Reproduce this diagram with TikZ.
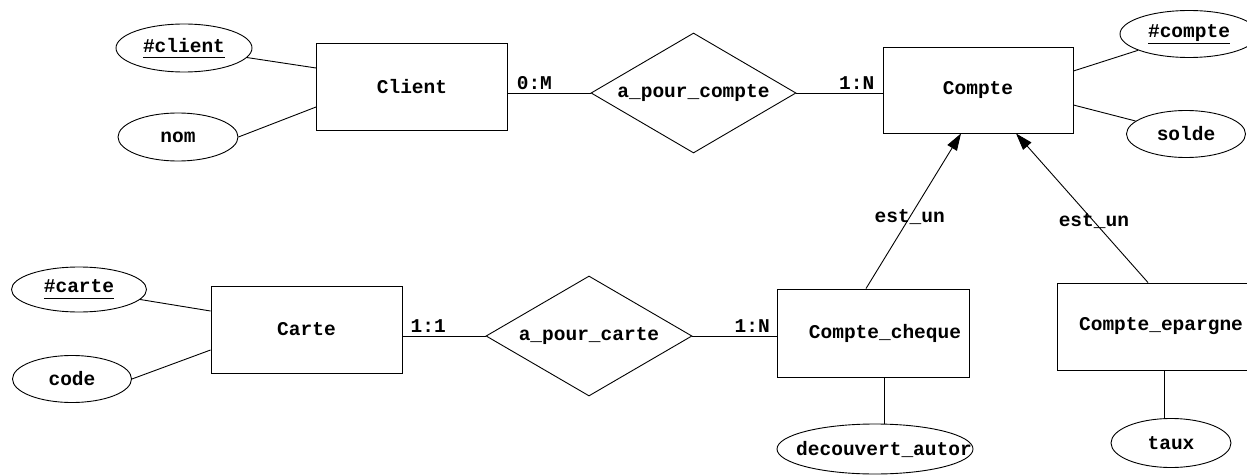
\documentclass[tikz,border=0pt]{standalone}
\usepackage{fontspec}
\setmainfont{Liberation Mono}
\usetikzlibrary{shapes.geometric, arrows.meta}
\newcommand\cle[1]{\setbox0\hbox{#1}\rlap{\rule[-6pt]{\wd0}{0.8pt}}\box0}

\tikzset{
  entite/.style = {draw, rectangle, inner sep=2pt, minimum width=191pt, minimum height=87pt},
  asso/.style = {draw, diamond, aspect=1.71, inner sep=0pt, minimum width=206pt, minimum height=120pt},
  attr/.style = {draw, ellipse, inner sep=0pt, minimum width=120pt, minimum height=48pt},
  card/.style = {above=1pt, inner sep=2pt},
  isa/.style = {-{Triangle[length=17pt, width=11pt]}}
}

\begin{document}
\begin{tikzpicture}[x=1pt, y=-1pt, line width=0.9pt, font=\fontsize{19.5}{23}\selectfont\bfseries]
\useasboundingbox (0,0) rectangle (1247,476);
\node[entite] (client) at (412,86.5) {Client};
\node[attr, minimum width=136pt] (cid) at (184,48) {\cle{\#client}};
\node[attr] (nom) at (178,137) {nom};
\node[asso, minimum width=205pt] (pc) at (693.5,93) {a\_pour\_compte};
\node[entite, minimum width=190pt, minimum height=86pt] (compte) at (978,90) {Compte};
\node[attr, minimum width=138pt, minimum height=47pt] (cptid) at (1189,34) {\cle{\#compte}};
\node[attr, minimum width=119pt, minimum height=47pt] (solde) at (1186,134) {solde};
\node[entite] (carte) at (306.5,329.5) {Carte};
\node[attr, minimum width=135pt, minimum height=45pt] (carteid) at (79,289.5) {\cle{\#carte}};
\node[attr, minimum width=119pt, minimum height=47pt] (code) at (72,379) {code};
\node[asso] (pcarte) at (589,336) {a\_pour\_carte};
\node[entite, minimum width=192pt, minimum height=88pt] (cheque) at (873,333) {\hspace{24pt}Compte\_cheque};
\node[entite] (epargne) at (1152.5,326.5) {\hspace{17pt}Compte\_epargne};
\node[attr, minimum width=196pt, minimum height=50pt] (decouv) at (875,449) {\makebox[0pt]{\hspace{18pt}decouvert\_autor}};
\node[attr, minimum height=49pt] (taux) at (1171,443) {taux};

\draw (cid) -- ([yshift=18.5pt]client.west);
\draw (nom.east) -- ([yshift=-20.5pt]client.west);
\draw (client.east |- pc.west) -- node[card, pos=0.32] {0:M} (pc.west);
\draw (pc.east) -- node[card, pos=0.7] {1:N} (pc.east -| compte.west);
\draw (cptid) -- ([yshift=19pt]compte.east);
\draw (solde) -- ([yshift=-15pt]compte.east);
\draw (carteid) -- ([yshift=18.5pt]carte.west);
\draw (code.east) -- ([yshift=-20.5pt]carte.west);
\draw (carte.east |- pcarte.west) -- node[card, pos=0.31] {1:1} (pcarte.west);
\draw (pcarte.east) -- node[card, pos=0.71] {1:N} (pcarte.east -| cheque.west);
\draw ([xshift=11pt]cheque.south) -- ([xshift=11pt]cheque.south |- decouv.north);
\draw ([xshift=11.5pt]epargne.south) -- ([xshift=11.5pt]epargne.south |- taux.north);
\draw[isa] ([xshift=-7pt]cheque.north) -- node[pos=0.46] {est\_un} ([xshift=-17pt]compte.south);
\draw[isa] ([xshift=-4.5pt]epargne.north) -- node[pos=0.41] {est\_un} ([xshift=38pt]compte.south);
\end{tikzpicture}
\end{document}
